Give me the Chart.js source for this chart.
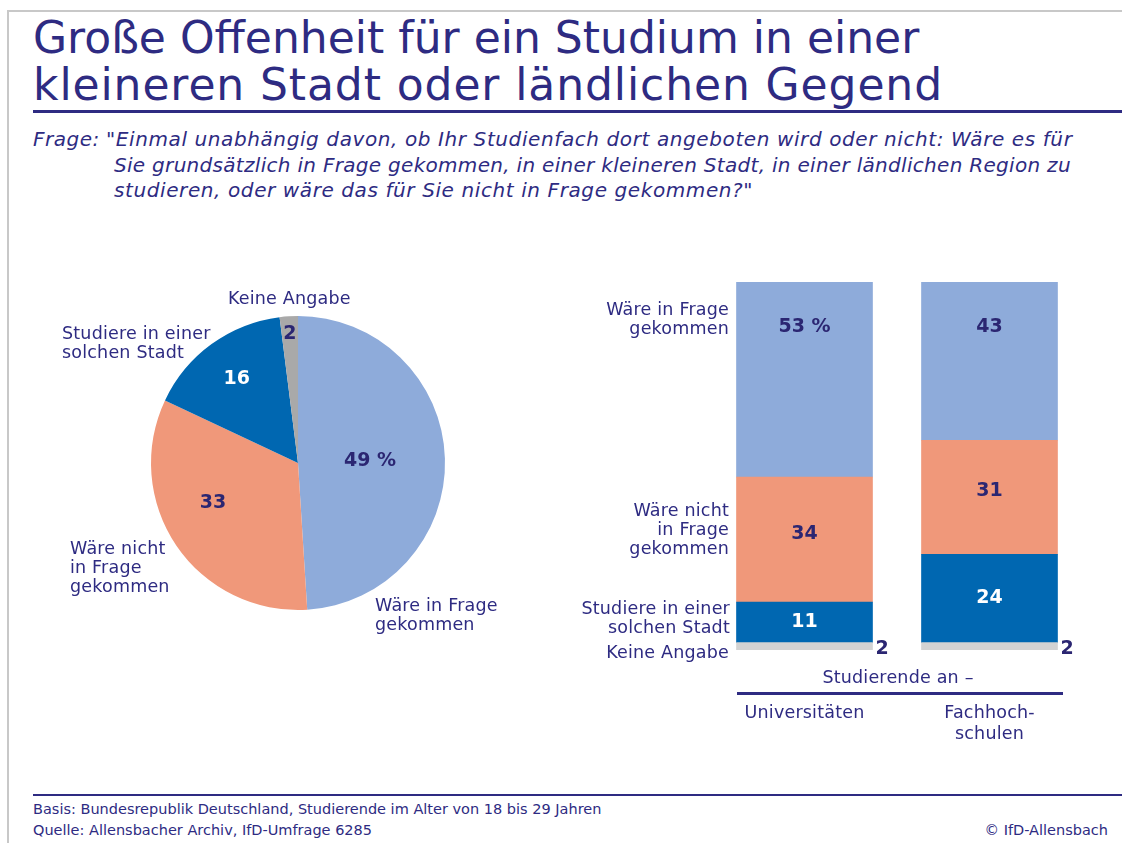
<!DOCTYPE html>
<html lang="de">
<head>
<meta charset="utf-8">
<title>Große Offenheit für ein Studium in einer kleineren Stadt</title>
<script src="https://cdn.jsdelivr.net/npm/chart.js@4/dist/chart.umd.min.js"></script>
<style>
  html, body { margin: 0; padding: 0; background: #fff; }
  #page {
    position: relative; width: 1122px; height: 843px; overflow: hidden;
    font-family: "DejaVu Sans", sans-serif; color: #2e2b82;
  }
  .abs { position: absolute; white-space: nowrap; }
  .lbl { font-size: 17.5px; line-height: 19px; letter-spacing: 0.2px; }
  .r { text-align: right; }
  .c { text-align: center; }
  #title { left: 33px; top: 14px; font-size: 44px; line-height: 47px; }
  #frage, #frageText { top: 127px; font-size: 20px; line-height: 25.5px; font-style: italic; letter-spacing: 0.6px; }
  #frage { left: 33px; letter-spacing: 0.5px; }
  #frageText { left: 106px; }
  .rule { position: absolute; background: #2e2b82; }
  .frame { position: absolute; background: #c8c8c8; }
  .foot { font-size: 14.5px; line-height: 20px; }
  canvas { position: absolute; }
</style>
</head>
<body>
<div id="page">
  <div class="frame" style="left:7px; top:10px; width:1115px; height:2px;"></div>
  <div class="frame" style="left:7px; top:10px; width:2px; height:833px;"></div>

  <div id="title" class="abs">Große Offenheit für ein Studium in einer<br><span style="letter-spacing:0.9px">kleineren Stadt oder ländlichen Gegend</span></div>
  <div class="rule" style="left:33px; top:110px; width:1089px; height:3px;"></div>

  <div id="frage" class="abs">Frage:</div>
  <div id="frageText" class="abs">"Einmal unabhängig davon, ob Ihr Studienfach dort angeboten wird oder nicht: Wäre es für<br><span style="padding-left:8px; letter-spacing:0.3px">Sie grundsätzlich in Frage gekommen, in einer kleineren Stadt, in einer ländlichen Region zu</span><br><span style="padding-left:8px">studieren, oder wäre das für Sie nicht in Frage gekommen?"</span></div>

  <canvas id="pieChart" width="480" height="360" style="left:40px; top:280px;"></canvas>
  <canvas id="barChart" width="552" height="400" style="left:570px; top:270px;"></canvas>

  <!-- Beschriftung Kreisdiagramm -->
  <div class="abs lbl" style="left:228px; top:289px;">Keine Angabe</div>
  <div class="abs lbl" style="left:62px; top:324px;">Studiere in einer<br>solchen Stadt</div>
  <div class="abs lbl" style="left:70px; top:539px;">Wäre nicht<br>in Frage<br>gekommen</div>
  <div class="abs lbl" style="left:375px; top:596px;">Wäre in Frage<br>gekommen</div>

  <!-- Beschriftung Säulen -->
  <div class="abs lbl r" style="right:393px; top:300px;">Wäre in Frage<br>gekommen</div>
  <div class="abs lbl r" style="right:393px; top:501px;">Wäre nicht<br>in Frage<br>gekommen</div>
  <div class="abs lbl r" style="right:392px; top:599px;">Studiere in einer<br>solchen Stadt</div>
  <div class="abs lbl r" style="right:393px; top:643px;">Keine Angabe</div>

  <div class="abs lbl c" style="left:798px; width:200px; top:668px;">Studierende an –</div>
  <div class="rule" style="left:737px; top:692px; width:326px; height:3px;"></div>
  <div id="xLabels"></div>

  <div class="rule" style="left:33px; top:794px; width:1089px; height:2px;"></div>
  <div class="abs foot" style="left:33px; top:799px;">Basis: Bundesrepublik Deutschland, Studierende im Alter von 18 bis 29 Jahren</div>
  <div class="abs foot" style="left:33px; top:820px;">Quelle: Allensbacher Archiv, IfD-Umfrage 6285</div>
  <div class="abs foot r" style="right:14px; top:820px;">© IfD-Allensbach</div>
</div>

<script>
// Daten
const pieLabels = ["Wäre in Frage gekommen", "Wäre nicht in Frage gekommen", "Studiere in einer solchen Stadt", "Keine Angabe"];
const pieValues = [49, 33, 16, 2];

const barCategories = ["Universitäten", "Fachhoch-\nschulen"];
const inFrage = [53, 43];
const nichtInFrage = [34, 31];
const studiere = [11, 24];
const keineAngabe = [2, 2];

// Farben
const LIGHT_BLUE = "#8eabda";
const SALMON = "#f0987a";
const DARK_BLUE = "#0067b1";
const GREY_PIE = "#a9a9a9";
const GREY_BAR = "#d3d3d3";
const NAVY = "#2b2672";

const pieColors = [LIGHT_BLUE, SALMON, DARK_BLUE, GREY_PIE];
const pieTextColors = [NAVY, NAVY, "#fff", NAVY];
// Lage der Werte im Kreis: Anteil am Radius und kleine Winkelverschiebung
const pieLabelRadius = [0.49, 0.64, 0.71, 0.88];
const pieLabelShift = [0, 0.157, 0, 0];

const valueFont = "bold 19px 'DejaVu Sans', sans-serif";

const pieValuePlugin = {
  id: "pieValues",
  afterDatasetsDraw (chart) {
    const ctx = chart.ctx;
    const meta = chart.getDatasetMeta(0);
    ctx.save();
    ctx.font = valueFont;
    ctx.textAlign = "center";
    ctx.textBaseline = "middle";
    meta.data.forEach((arc, i) => {
      const mid = (arc.startAngle + arc.endAngle) / 2 + pieLabelShift[i];
      const r = arc.outerRadius * pieLabelRadius[i];
      const txt = i === 0 ? `${pieValues[i]} %` : `${pieValues[i]}`;
      ctx.fillStyle = pieTextColors[i];
      ctx.fillText(txt, arc.x + Math.cos(mid) * r, arc.y + Math.sin(mid) * r);
    });
    ctx.restore();
  }
};

const barValuePlugin = {
  id: "barValues",
  afterDatasetsDraw (chart) {
    const ctx = chart.ctx;
    ctx.save();
    ctx.font = valueFont;
    ctx.textBaseline = "middle";
    chart.data.datasets.forEach((ds, d) => {
      chart.getDatasetMeta(d).data.forEach((bar, i) => {
        const v = ds.data[i];
        let txt = `${v}`;
        let x = bar.x;
        let y = (bar.y + bar.base) / 2;
        ctx.textAlign = "center";
        if (d === 0) {
          // Keine Angabe: rechts neben der Säule
          x = bar.x + bar.width / 2 + 3;
          y += 3;
          ctx.textAlign = "left";
        } else if (d === 2) {
          y -= 6;
        } else if (d === 3) {
          y = bar.y + 45;
          if (i === 0) txt = `${v} %`;
        }
        ctx.fillStyle = d === 1 ? "#fff" : NAVY;
        ctx.fillText(txt, x, y);
      });
    });
    ctx.restore();
  }
};

new Chart(document.getElementById("pieChart"), {
  type: "pie",
  data: {
    labels: pieLabels,
    datasets: [{ data: pieValues, backgroundColor: pieColors, borderWidth: 0 }]
  },
  options: {
    responsive: false,
    animation: false,
    devicePixelRatio: 1,
    layout: { padding: { left: 111, right: 75, top: 36, bottom: 30 } },
    plugins: { legend: { display: false }, tooltip: { enabled: false } }
  },
  plugins: [pieValuePlugin]
});

new Chart(document.getElementById("barChart"), {
  type: "bar",
  data: {
    labels: barCategories,
    datasets: [
      { label: "Keine Angabe", data: keineAngabe, backgroundColor: GREY_BAR },
      { label: "Studiere in einer solchen Stadt", data: studiere, backgroundColor: DARK_BLUE },
      { label: "Wäre nicht in Frage gekommen", data: nichtInFrage, backgroundColor: SALMON },
      { label: "Wäre in Frage gekommen", data: inFrage, backgroundColor: LIGHT_BLUE }
    ]
  },
  options: {
    responsive: false,
    animation: false,
    devicePixelRatio: 1,
    barThickness: 136,
    layout: { padding: { left: 142, right: 40, top: 12, bottom: 20 } },
    scales: {
      x: { stacked: true, display: false },
      y: { stacked: true, display: false, min: 0, max: 100 }
    },
    plugins: { legend: { display: false }, tooltip: { enabled: false } }
  },
  plugins: [barValuePlugin, {
    id: "xLabels",
    afterRender (chart) {
      // Kategorienamen unter der Linie als Text
      const holder = document.getElementById("xLabels");
      if (holder.childElementCount) return;
      const xs = chart.scales.x;
      barCategories.forEach((cat, i) => {
        const el = document.createElement("div");
        el.className = "abs lbl c";
        el.style.left = (570 + xs.getPixelForValue(i) - 100) + "px";
        el.style.width = "200px";
        el.style.top = "702px";
        el.style.lineHeight = "21px";
        el.innerHTML = cat.replace("\n", "<br>");
        holder.appendChild(el);
      });
    }
  }]
});
</script>
</body>
</html>
